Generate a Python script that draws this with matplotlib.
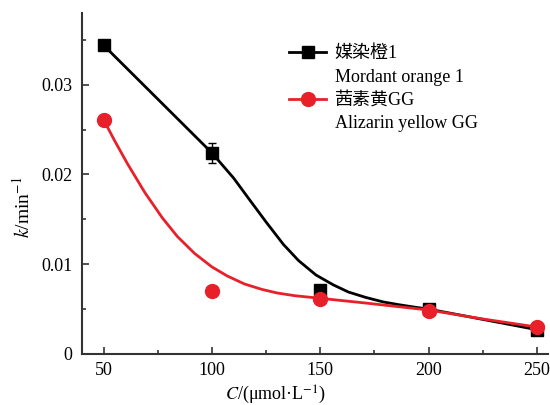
import matplotlib
matplotlib.use('Agg')
import matplotlib.pyplot as plt
from matplotlib.ticker import MultipleLocator
from matplotlib.lines import Line2D

plt.rcParams['font.family'] = ['Liberation Serif', 'Noto Sans CJK SC']
plt.rcParams['mathtext.fontset'] = 'stix'
plt.rcParams['font.size'] = 13

# Messpunkte
conc = [50, 100, 150, 200, 250]
k_mordant = [0.0344, 0.0224, 0.0071, 0.0050, 0.0027]
err_mordant = [0.0003, 0.0011, 0.0003, 0.0002, 0.0002]
k_alizarin = [0.0261, 0.0070, 0.0061, 0.0048, 0.0030]

# Angepasste Kurven
fit_c_mordant = [50, 60, 70, 80, 90, 100, 110, 117, 125, 133, 140, 148, 156, 163, 171,
                 179, 186, 194, 200, 212.5, 225, 237.5, 250]
fit_k_mordant = [0.0344, 0.0320, 0.0296, 0.0272, 0.0248, 0.0224, 0.0196, 0.0173, 0.0147,
                 0.0122, 0.0104, 0.0088, 0.0077, 0.0069, 0.0063, 0.0058, 0.0055, 0.0052,
                 0.0050, 0.00443, 0.00385, 0.00328, 0.0027]
fit_c_alizarin = [50, 55, 61, 69, 77, 84, 92, 100, 107, 115, 123, 130, 138, 150, 170,
                  200, 225, 250]
fit_k_alizarin = [0.0261, 0.0238, 0.0212, 0.0180, 0.0152, 0.0131, 0.0112, 0.0097, 0.0087,
                  0.0078, 0.0072, 0.0068, 0.0065, 0.0062, 0.0057, 0.0049, 0.0039, 0.0030]

labels = ['媒染橙1', 'Mordant orange 1', '茜素黄GG', 'Alizarin yellow GG']
red = '#e8202a'

fig = plt.figure(figsize=(5.5, 4.05), dpi=100)
ax = fig.add_axes([0.149, 0.126, 0.847, 0.842])

ax.plot(fit_c_mordant, fit_k_mordant, color='black', lw=2, solid_joinstyle='round')
ax.errorbar(conc, k_mordant, yerr=err_mordant, fmt='s', color='black',
            ms=8.5, capsize=3, elinewidth=1, zorder=3)
ax.plot(fit_c_alizarin, fit_k_alizarin, color=red, lw=2, solid_joinstyle='round', zorder=4)
ax.plot(conc, k_alizarin, 'o', color=red, ms=10, zorder=5)

ax.set_xlim(40, 255)
ax.set_ylim(0, 0.038)
ax.xaxis.set_major_locator(MultipleLocator(50))
ax.xaxis.set_minor_locator(MultipleLocator(25))
ax.yaxis.set_minor_locator(MultipleLocator(0.005))
ax.set_yticks([0, 0.01, 0.02, 0.03])
ax.set_yticklabels(['0', '0.01', '0.02', '0.03'])
ax.tick_params(which='both', direction='in', width=1.2, color='#333333', labelsize=13)
ax.tick_params(which='major', length=5)
ax.tick_params(which='minor', length=3)
ax.tick_params(axis='y', pad=7)
ax.tick_params(axis='x', pad=6)

for s in ['top', 'right']:
    ax.spines[s].set_visible(False)
for s in ['left', 'bottom']:
    ax.spines[s].set_linewidth(1.5)
    ax.spines[s].set_color('#333333')

ax.set_xlabel('$C$/(μmol·L$^{-1}$)', labelpad=3, x=0.416)
ax.set_ylabel('$k$/min$^{-1}$', labelpad=5, y=0.431, fontsize=14)

blank = Line2D([], [], linestyle='none')
h1 = Line2D([], [], color='black', marker='s', ms=8.5, lw=2)
h2 = Line2D([], [], color=red, marker='o', ms=10, lw=2)
ax.legend([h1, blank, h2, blank], labels, loc='upper left',
          bbox_to_anchor=(0.43, 0.926), frameon=False, handlelength=2.0,
          handletextpad=0.5, labelspacing=0.35, borderaxespad=0)

fig.savefig('out.png', dpi=100)
